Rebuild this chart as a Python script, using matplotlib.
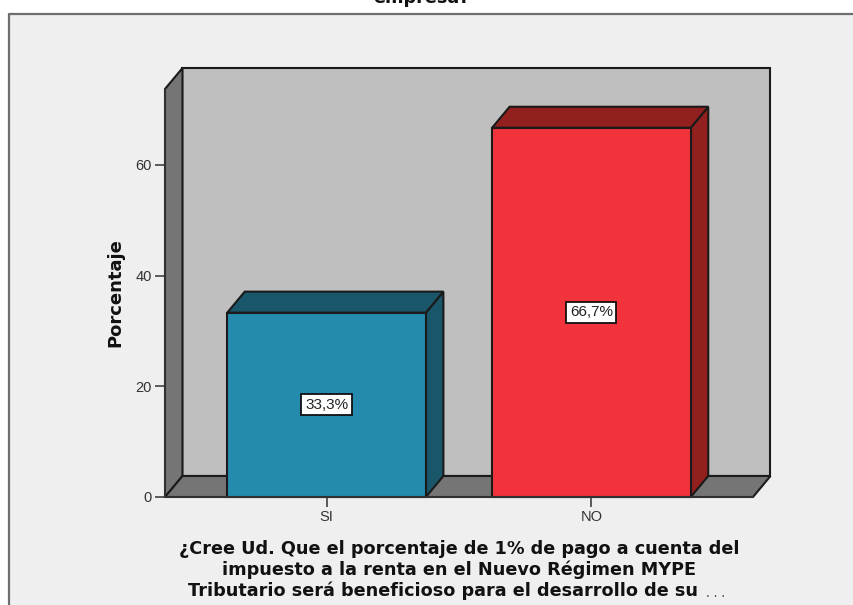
import matplotlib
matplotlib.use('Agg')
import matplotlib.pyplot as plt
from matplotlib.patches import Polygon, Rectangle

plt.rcParams['font.family'] = ['Liberation Sans', 'DejaVu Sans']

# Datos
categorias = ['SI', 'NO']
porcentajes = [33.3, 66.7]
etiquetas = ['33,3%', '66,7%']
colores_frente = ['#248BAE', '#F2333B']
colores_lado = ['#195669', '#91201F']
ticks_y = [0, 20, 40, 60]
titulo_sup = 'empresa?'
lineas_x = ['¿Cree Ud. Que el porcentaje de 1% de pago a cuenta del',
            'impuesto a la renta en el Nuevo Régimen MYPE',
            'Tributario será beneficioso para el desarrollo de su']

W, H = 854, 605
fig = plt.figure(figsize=(W / 100, H / 100), dpi=100, facecolor='white')

# Fondo gris del grafico
fig.add_artist(Rectangle((8 / W, 0), (W - 8) / W, (H - 13) / H, transform=fig.transFigure,
                         facecolor='#EFEFEF', edgecolor='none', zorder=-2))
fig.add_artist(plt.Line2D([8.5 / W, 8.5 / W, 1], [0, (H - 13.5) / H, (H - 13.5) / H],
                          color='#6E6E6E', lw=1.6, zorder=-1))

# Titulo cortado por el borde superior
fig.text(422 / W, 1 - 3 / H, titulo_sup, ha='center', va='baseline', family='DejaVu Sans',
         fontsize=12.7, fontweight='bold', color='#111111')

ax = fig.add_axes([165 / W, 1 - 497 / H, 588 / W, 408 / H])
ax.set_xlim(-0.61, 1.61)
ax.set_ylim(0, 73.7)
ax.patch.set_visible(False)

# Profundidad en unidades de datos
dx = 17.5 / 265
dy = 21 / 5.533
x0, x1 = ax.get_xlim()
y1 = ax.get_ylim()[1]
borde = dict(edgecolor='#1A1A1A', lw=1.5, clip_on=False, joinstyle='miter')

# Paredes
ax.add_patch(Polygon([(x0 + dx, dy), (x1 + dx, dy), (x1 + dx, y1 + dy), (x0 + dx, y1 + dy)],
                     facecolor='#BFBFBF', **borde))
ax.add_patch(Polygon([(x0, 0), (x0 + dx, dy), (x0 + dx, y1 + dy), (x0, y1)],
                     facecolor='#757575', **borde))
ax.add_patch(Polygon([(x0, 0), (x1, 0), (x1 + dx, dy), (x0 + dx, dy)],
                     facecolor='#757575', **borde))

# Barras
ancho = 0.75
for i, valor in enumerate(porcentajes):
    izq, der = i - ancho / 2, i + ancho / 2
    ax.add_patch(Polygon([(der, 0), (der + dx, dy), (der + dx, valor + dy), (der, valor)],
                         facecolor=colores_lado[i], **borde))
    ax.add_patch(Polygon([(izq, valor), (der, valor), (der + dx, valor + dy), (izq + dx, valor + dy)],
                         facecolor=colores_lado[i], **borde))
    ax.add_patch(Rectangle((izq, 0), ancho, valor, facecolor=colores_frente[i], **borde))
    ax.text(i, valor / 2, etiquetas[i], ha='center', va='center', fontsize=11, color='#222222',
            bbox=dict(facecolor='white', edgecolor='#111111', lw=1.3, pad=2.5))

for lado in ['top', 'right']:
    ax.spines[lado].set_visible(False)
ax.spines['left'].set_color('#333333')
ax.spines['bottom'].set_color('#333333')
ax.spines['left'].set_linewidth(1.3)
ax.spines['bottom'].set_linewidth(1.3)

ax.set_xticks(range(len(categorias)))
ax.set_xticklabels(categorias)
ax.set_yticks(ticks_y)
ax.tick_params(axis='both', labelsize=10.5, labelcolor='#333333', color='#333333',
               length=7.5, width=1.1, pad=2)
ax.set_ylabel('Porcentaje', family='DejaVu Sans', fontsize=13, fontweight='bold', color='#111111', labelpad=8)

# Titulo del eje x, linea por linea
centros_x = [459, 459, 443]
bases_y = [554, 575, 596]
for linea, cx, by in zip(lineas_x, centros_x, bases_y):
    fig.text(cx / W, 1 - by / H, linea, ha='center', va='baseline', family='DejaVu Sans',
             fontsize=12.7, fontweight='bold', color='#111111')
fig.text(706 / W, 1 - 597 / H, '. . .', ha='left', va='baseline', fontsize=10, color='#444444')

fig.savefig('out.png', dpi=100, facecolor=fig.get_facecolor())
